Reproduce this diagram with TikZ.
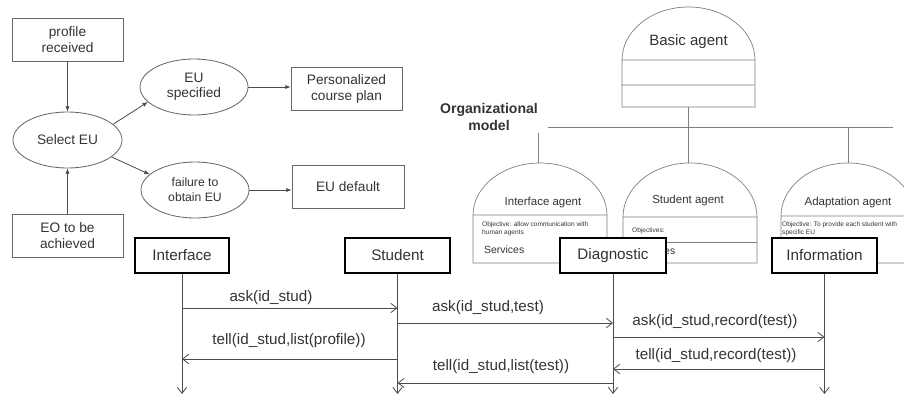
\documentclass[tikz,border=0pt]{standalone}
\usepackage{fontspec}
\setmainfont{Liberation Sans}
\usetikzlibrary{arrows.meta,shapes.geometric}

\begin{document}
\begin{tikzpicture}[x=0.03cm,y=-0.03cm,
  box/.style={draw=black!60,line width=0.7pt,minimum width=3.33cm,minimum height=1.29cm,
    inner sep=1pt,align=center,text=black!80,font=\fontsize{11.7}{13.7}\selectfont},
  oval/.style={ellipse,draw=black!60,line width=0.7pt,minimum width=3.27cm,minimum height=1.68cm,
    inner sep=0pt,align=center,text=black!80,font=\fontsize{11.7}{12.8}\selectfont},
  flow/.style={draw=black!70,line width=0.7pt,-{Latex[length=1.6mm,width=1.3mm]}},
  agent/.style={draw=black!50,line width=0.6pt},
  agentlbl/.style={text=black!80,font=\fontsize{9.8}{11}\selectfont},
  tinylbl/.style={text=black!80,align=left,inner sep=0pt,font=\fontsize{5.6}{5}\selectfont},
  seqbox/.style={draw=black,line width=1.8pt,fill=white,minimum height=1.05cm,
    text=black!80,font=\fontsize{13}{15}\selectfont},
  life/.style={draw=black!70,line width=0.7pt,-{Straight Barb[length=1.8mm,width=2.8mm]}},
  msglbl/.style={text=black!80,font=\fontsize{13}{15}\selectfont}]
  \useasboundingbox (0,0) rectangle (904,396);
  \clip (0,0) rectangle (904,396);

  % selection of the EU
  \node[box] (prof) at (67.5,39.5) {profile\\received};
  \node[box] (eo) at (67.5,235.5) {EO to be\\achieved};
  \node[oval] (sel) at (67.5,140) {Select EU};
  \node[oval,minimum width=3.24cm] (spec) at (194,87) {EU\\specified};
  \node[oval,minimum width=3.24cm,font=\fontsize{10.4}{12.8}\selectfont] (fail) at (195,190) {failure to\\obtain EU};
  \node[box] (plan) at (346.5,88.5) {Personalized\\course plan};
  \node[box,minimum width=3.36cm] (dflt) at (348,186.5) {EU default};
  \draw[flow] (prof) -- (sel);
  \draw[flow] (eo) -- (sel);
  \draw[flow] (sel.19) -- (spec.198);
  \draw[flow] (sel.-21) -- (fail.161);
  \draw[flow] (spec.east) -- (spec.east -| plan.west);
  \draw[flow] (fail.east) -- (fail.east -| dflt.west);

  % organizational model
  \node[text=black!80,align=center,font=\bfseries\fontsize{12}{14.5}\selectfont] (org) at (489,117) {Organizational\\model};
  \draw[agent] (622,107) -- (622,60) arc[start angle=180,end angle=360,x radius=66.5,y radius=53]
    -- (755,107) -- cycle (622,60) -- (755,60) (622,85) -- (755,85);
  \node[text=black!80,font=\fontsize{12.8}{14}\selectfont] (basic) at (688.5,42) {Basic agent};
  \draw[agent] (688.5,107) -- (688.5,163) (548,127) -- (893,127)
    (538,133) -- (538,163) (848,127) -- (848,163);
  \foreach \cx/\ry/\base in {540/52/215,690/54/217,848/53/216}
    \draw[agent] (\cx-67,263) -- (\cx-67,\base) arc[start angle=180,end angle=360,x radius=67,y radius=\ry]
      -- (\cx+67,263) -- cycle (\cx-67,\base) -- (\cx+67,\base);
  \draw[agent] (623,242) -- (757,242);
  \node[agentlbl] (ifcag) at (543,203) {Interface agent};
  \node[agentlbl] (stuag) at (688,201) {Student agent};
  \node[agentlbl] (adaag) at (848,203) {Adaptation agent};
  \node[tinylbl,anchor=north west] (ifcobj) at (482,222) {Objective: allow communication with\\human agents};
  \node[tinylbl,anchor=west] (stuobj) at (632,231) {Objectives:};
  \node[tinylbl,anchor=north west] (adaobj) at (782,222) {Objective: To provide each student with\\specific EU};
  \node[agentlbl,inner sep=0pt,font=\fontsize{8.9}{10}\selectfont,anchor=west] (ifcsrv) at (484,250) {Services};
  \node[agentlbl,inner sep=0pt,font=\fontsize{8.9}{10}\selectfont,anchor=west] (stusrv) at (635,251) {Services};

  % interaction between agents
  \node[seqbox,minimum width=2.82cm] (ifc) at (182,255.5) {Interface};
  \node[seqbox,minimum width=3.15cm] (stu) at (397.5,255.5) {Student};
  \node[seqbox,minimum width=3.18cm] (diag) at (613,255.5) {Diagnostic};
  \node[seqbox,minimum width=3.15cm] (info) at (824.5,255.5) {Information};
  \coordinate (bot) at (0,394);
  \foreach \n in {ifc,stu,diag,info}
    \draw[life] (\n.south) -- (\n.south |- bot);
  \path (0,308) coordinate (m1) (0,323) coordinate (m2) (0,337) coordinate (m3)
        (0,359) coordinate (m4) (0,369) coordinate (m5) (0,383) coordinate (m6);
  \draw[life] (ifc |- m1) -- (stu |- m1);
  \draw[life] (stu |- m2) -- (diag |- m2);
  \draw[life] (diag |- m3) -- (info |- m3);
  \draw[life] (stu |- m4) -- (ifc |- m4);
  \draw[life] (info |- m5) -- (diag |- m5);
  \draw[life] (diag |- m6) -- (stu |- m6);
  \node[msglbl] (l1) at (271,298) {ask(id\_stud)};
  \node[msglbl] (l2) at (488,308) {ask(id\_stud,test)};
  \node[msglbl] (l3) at (715,322) {ask(id\_stud,record(test))};
  \node[msglbl] (l4) at (289,341) {tell(id\_stud,list(profile))};
  \node[msglbl] (l5) at (716,356) {tell(id\_stud,record(test))};
  \node[msglbl] (l6) at (501,367) {tell(id\_stud,list(test))};
\end{tikzpicture}
\end{document}
